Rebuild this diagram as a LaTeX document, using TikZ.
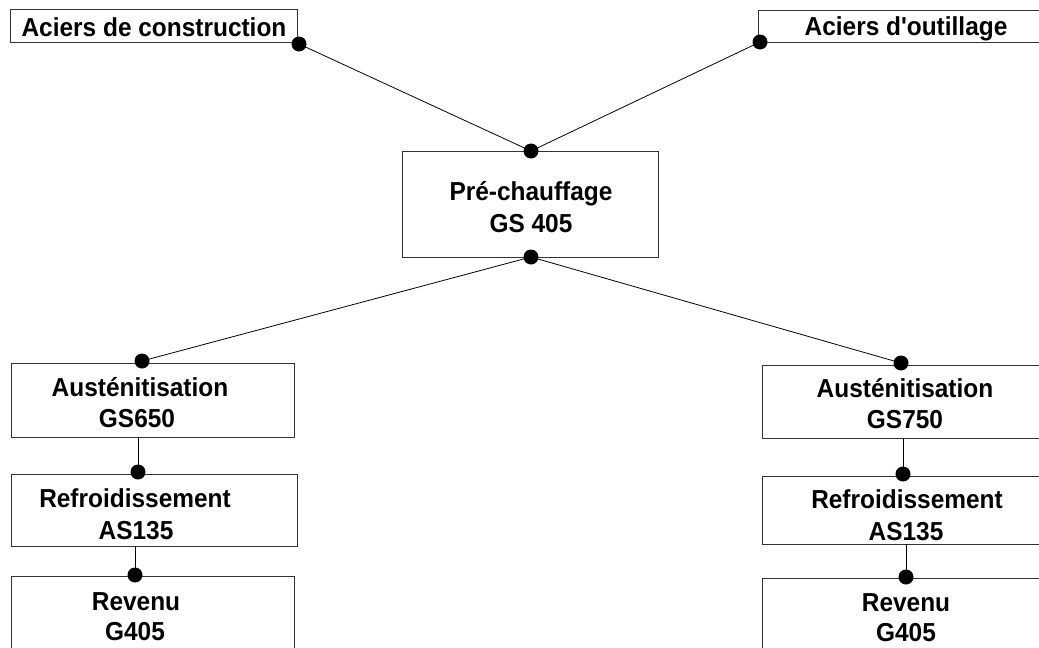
\documentclass[tikz,border=0pt]{standalone}
\usepackage{fontspec}
\setmainfont{Liberation Sans}
\newfontfamily\lblfont[FakeStretch=0.94]{Liberation Sans}
\begin{document}
\begin{tikzpicture}[x=1pt,y=-1pt,
  box/.style={draw=black!80, line width=0.8pt, inner sep=0pt, rectangle},
  lbl/.style={anchor=base, inner sep=0pt, font=\lblfont\fontsize{26}{30}\selectfont\bfseries},
  dotn/.style={circle, fill=black, inner sep=0pt, minimum size=15pt},
  conn/.style={line width=0.8pt, black}]
\useasboundingbox (0,0) rectangle (1039,648);
\clip (0,0) rectangle (1039,648);
% boxes
\node[box, minimum width=287pt, minimum height=33pt] (bcons) at (153.5,25.5) {};
\node[box, minimum width=302pt, minimum height=32pt] (bout) at (909,26) {};
\node[box, minimum width=256pt, minimum height=106pt] (bpre) at (530,204) {};
\node[box, minimum width=283pt, minimum height=74pt] (baustL) at (152.5,400) {};
\node[box, minimum width=286pt, minimum height=72pt] (brefL) at (154,510) {};
\node[box, minimum width=283pt, minimum height=124pt] (brevL) at (152.5,638) {};
\node[box, minimum width=298pt, minimum height=73pt] (baustR) at (911,401.5) {};
\node[box, minimum width=298pt, minimum height=68pt] (brefR) at (911,510) {};
\node[box, minimum width=298pt, minimum height=122pt] (brevR) at (911,639) {};
% labels
\node[lbl] (tcons) at (154,36) {Aciers de construction};
\node[lbl] (tout) at (906,35) {Aciers d{\char39}outillage};
\node[lbl] (tpre1) at (531,200) {Pré-chauffage};
\node[lbl] (tpre2) at (531,232) {GS 405};
\node[lbl] (taustL1) at (140,396) {Austénitisation};
\node[lbl] (taustL2) at (137,427) {GS650};
\node[lbl] (trefL1) at (135,507) {Refroidissement};
\node[lbl] (trefL2) at (136,539) {AS135};
\node[lbl] (trevL1) at (136,610) {Revenu};
\node[lbl] (trevL2) at (135,640) {G405};
\node[lbl] (taustR1) at (905,397) {Austénitisation};
\node[lbl] (taustR2) at (905,428) {GS750};
\node[lbl] (trefR1) at (907,508) {Refroidissement};
\node[lbl] (trefR2) at (906,540) {AS135};
\node[lbl] (trevR1) at (906,611) {Revenu};
\node[lbl] (trevR2) at (906,641) {G405};
% dot positions
\coordinate (c1) at (299,44);
\coordinate (c2) at (760,42);
\coordinate (c3) at (531,151);
\coordinate (c4) at (531,257);
\coordinate (c5) at (142,361);
\coordinate (c6) at (901,363);
\coordinate (c7) at (138,472);
\coordinate (c8) at (903,474);
\coordinate (c9) at (135,575);
\coordinate (c10) at (906,577);
% connectors
\draw[conn] (c1) -- (c3);
\draw[conn] (c2) -- (c3);
\draw[conn] (c4) -- (c5);
\draw[conn] (c4) -- (c6);
\draw[conn] (baustL.south -| c7) -- (c7);
\draw[conn] (brefL.south -| c9) -- (c9);
\draw[conn] (baustR.south -| c8) -- (c8);
\draw[conn] (brefR.south -| c10) -- (c10);
% dots
\foreach \c in {c1,c2,c3,c4,c5,c6,c7,c8,c9,c10}
  \node[dotn] (d\c) at (\c) {};
\end{tikzpicture}
\end{document}
